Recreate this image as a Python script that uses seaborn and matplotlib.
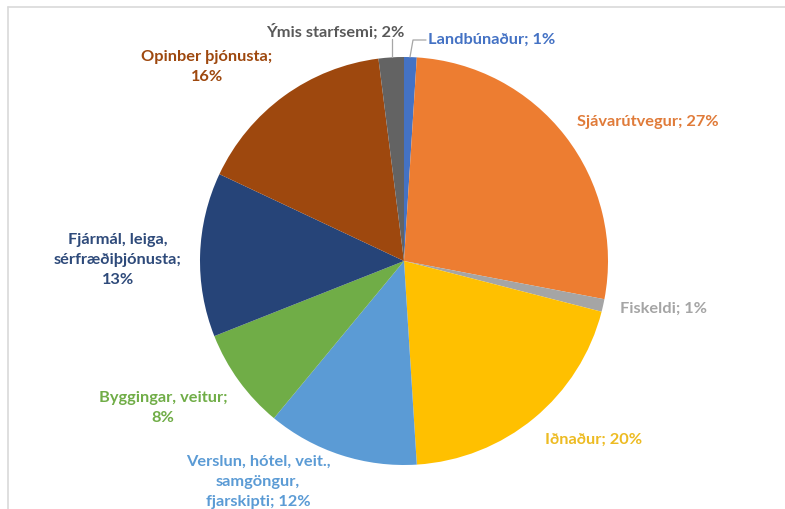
import seaborn as sns
import numpy as np
import matplotlib.pyplot as plt
from matplotlib.lines import Line2D

# Atvinnugreinar og hlutfall (%)
greinar = ['Landbúnaður', 'Sjávarútvegur', 'Fiskeldi', 'Iðnaður',
           'Verslun, hótel, veit., samgöngur, fjarskipti', 'Byggingar, veitur',
           'Fjármál, leiga, sérfræðiþjónusta', 'Opinber þjónusta', 'Ýmis starfsemi']
hlutfall = [1, 27, 1, 20, 12, 8, 13, 16, 2]

# Litir (Office)
litir = ['#4472C4', '#ED7D31', '#A5A5A5', '#FFC000', '#5B9BD5',
         '#70AD47', '#264478', '#9E480E', '#636363']
textalitir = ['#4472C4', '#E07B39', '#A5A5A5', '#EDBB22', '#5B9BD5',
              '#70AD47', '#2E4A7A', '#9E480E', '#595959']

# hvernig merkin eru brotin i linur og hvar þau sitja (pixlar i myndinni, miðja merkis)
linubrot = {4: ['Verslun, hótel, veit.,', 'samgöngur,', 'fjarskipti; {}%'],
            5: ['Byggingar, veitur;', '{}%'],
            6: ['Fjármál, leiga,', 'sérfræðiþjónusta;', '{}%'],
            7: ['Opinber þjónusta;', '{}%']}
stadir = [(428, 40, 'left'), (577, 122, 'left'), (620, 309, 'left'),
          (545, 440, 'left'), (258, 482, 'center'), (163, 408, 'center'),
          (118, 260, 'center'), (207, 67, 'center'), (335, 32, 'center')]

W, H = 785, 510
sns.set_theme(style='white')
plt.rcParams['font.family'] = ['Lato', 'DejaVu Sans']

fig = plt.figure(figsize=(W / 100, H / 100), dpi=100)
ax = fig.add_axes([0, 0, 1, 1])

cx, cy, r = 404, H - 262, 204
ax.pie(hlutfall, colors=litir, startangle=90, counterclock=False,
       center=(cx, cy), radius=r, wedgeprops=dict(linewidth=0))
ax.set_xlim(0, W)
ax.set_ylim(0, H)
ax.set_aspect('equal')
ax.axis('off')

# merki
for i, (nafn, p) in enumerate(zip(greinar, hlutfall)):
    x, y, ha = stadir[i]
    if i in linubrot:
        linur = [l.format(p) for l in linubrot[i]]
    else:
        linur = ['{}; {}%'.format(nafn, p)]
    ax.text(x, H - y, '\n'.join(linur), ha=ha, va='center', multialignment='center',
            fontsize=11.8, fontweight='bold', color=textalitir[i],
            linespacing=1.55)

# leidarlinur fyrir litlu sneidarnar efst
ax.plot([392, 392], [H - 58, H - 40], color='#A6A6A6', lw=0.9)
ax.plot([410, 413, 426], [H - 58, H - 41, H - 41], color='#A6A6A6', lw=0.9)

# rammi um myndritid
fig.add_artist(Line2D([8 / W, 1], [1 - 8 / H, 1 - 8 / H], color='#D9D9D9', lw=1.2))
fig.add_artist(Line2D([8 / W, 8 / W], [0, 1 - 8 / H], color='#D9D9D9', lw=1.2))

fig.savefig('out.png', dpi=100, facecolor='white')
